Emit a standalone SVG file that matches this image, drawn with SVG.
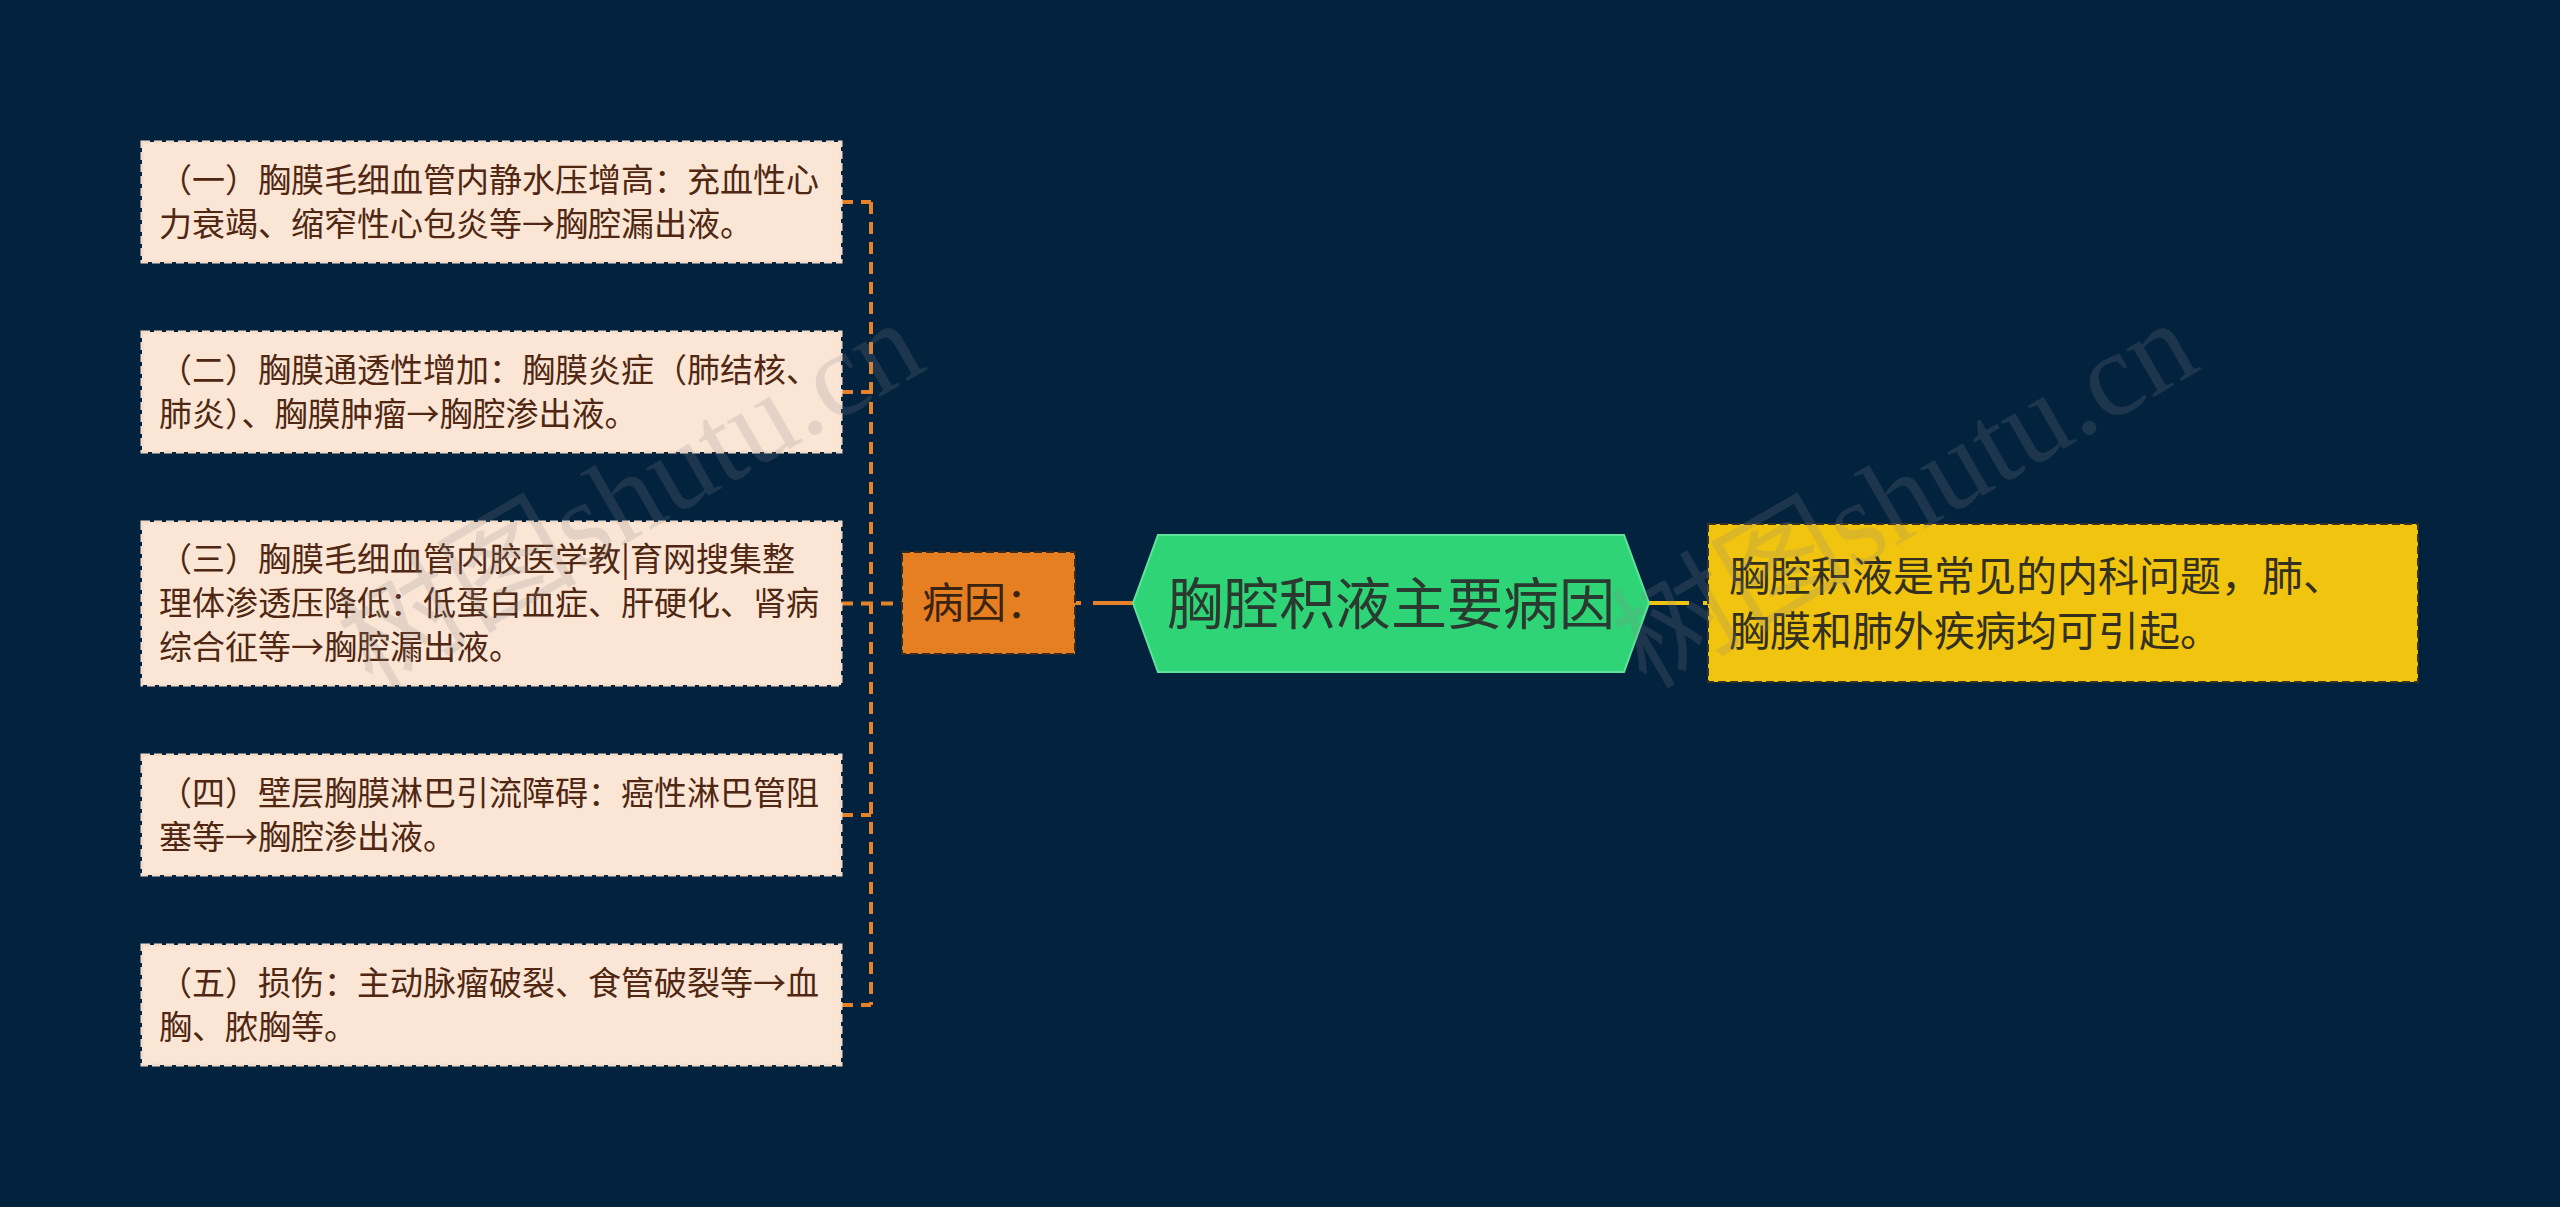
<svg xmlns="http://www.w3.org/2000/svg" width="2560" height="1207" viewBox="0 0 2560 1207">
<style>
.sub rect{fill:#fbe6d5;stroke:#f3ddca;stroke-width:3;stroke-dasharray:8 4}
.sub text{font-family:"Noto Sans CJK SC","Noto Sans",sans-serif;font-size:33px;fill:#4f2712}
.conn{fill:none;stroke-width:4}
.or{stroke:#e6822a}
.ye{stroke:#f1c40f}
.wm{font-family:"Liberation Serif","Noto Sans CJK SC",serif;font-size:120px;fill:#888;opacity:0.2}
</style>
<rect width="2560" height="1207" fill="#02223e"/>
<g id="connectors">
<path class="conn or" stroke-dasharray="12 8" d="M871 202V1005M841 202H871M841 392H871M841 603.5H902M841 815H871M841 1005H871"/>
<path class="conn or" stroke-dasharray="6 12 80" d="M1075 603H1140"/>
<path class="conn ye" stroke-dasharray="40 14 20" d="M1649 603H1708"/>
</g>
<g id="node1" class="sub"><rect x="142" y="142" width="699" height="120"/>
<text x="159" y="192">（一）胸膜毛细血管内静水压增高：充血性心</text>
<text x="159" y="236">力衰竭、缩窄性心包炎等→胸腔漏出液。</text></g>
<g id="node2" class="sub"><rect x="142" y="332" width="699" height="120"/>
<text x="159" y="382">（二）胸膜通透性增加：胸膜炎症（肺结核、</text>
<text x="159" y="426">肺炎）、胸膜肿瘤→胸腔渗出液。</text></g>
<g id="node3" class="sub"><rect x="142" y="522" width="699" height="163"/>
<text x="159" y="571">（三）胸膜毛细血管内胶医学教|育网搜集整</text>
<text x="159" y="615">理体渗透压降低：低蛋白血症、肝硬化、肾病</text>
<text x="159" y="659">综合征等→胸腔漏出液。</text></g>
<g id="node4" class="sub"><rect x="142" y="755" width="699" height="120"/>
<text x="159" y="805">（四）壁层胸膜淋巴引流障碍：癌性淋巴管阻</text>
<text x="159" y="849">塞等→胸腔渗出液。</text></g>
<g id="node5" class="sub"><rect x="142" y="945" width="699" height="120"/>
<text x="159" y="995">（五）损伤：主动脉瘤破裂、食管破裂等→血</text>
<text x="159" y="1039">胸、脓胸等。</text></g>
<g id="cause"><rect x="902" y="552" width="173" height="102" fill="#e67e22" stroke="#3a2a1c" stroke-width="2" stroke-dasharray="8 4"/>
<text x="922" y="618" font-family="Noto Sans CJK SC,sans-serif" font-size="42" fill="#3a2410">病因：</text></g>
<g id="root"><polygon points="1133,603 1158,535 1624,535 1649,603 1624,672 1158,672" fill="#2fd477" stroke="#5fe39c" stroke-width="2"/>
<text x="1391" y="624" text-anchor="middle" font-family="Noto Sans CJK SC,sans-serif" font-size="56" fill="#2a3a30">胸腔积液主要病因</text></g>
<g id="summary"><rect x="1708" y="524" width="710" height="158" fill="#f1c40f" stroke="#3a3320" stroke-width="2" stroke-dasharray="8 4"/>
<text font-family="Noto Sans CJK SC,sans-serif" font-size="41" fill="#33301f"><tspan x="1729" y="591">胸腔积液是常见的内科问题，肺、</tspan><tspan x="1729" y="646">胸膜和肺外疾病均可引起。</tspan></text></g>
<g id="watermark">
<text class="wm" transform="translate(372 690) rotate(-30)">树图shutu.cn</text>
<text class="wm" transform="translate(1646 690) rotate(-30)">树图shutu.cn</text>
</g>
</svg>
